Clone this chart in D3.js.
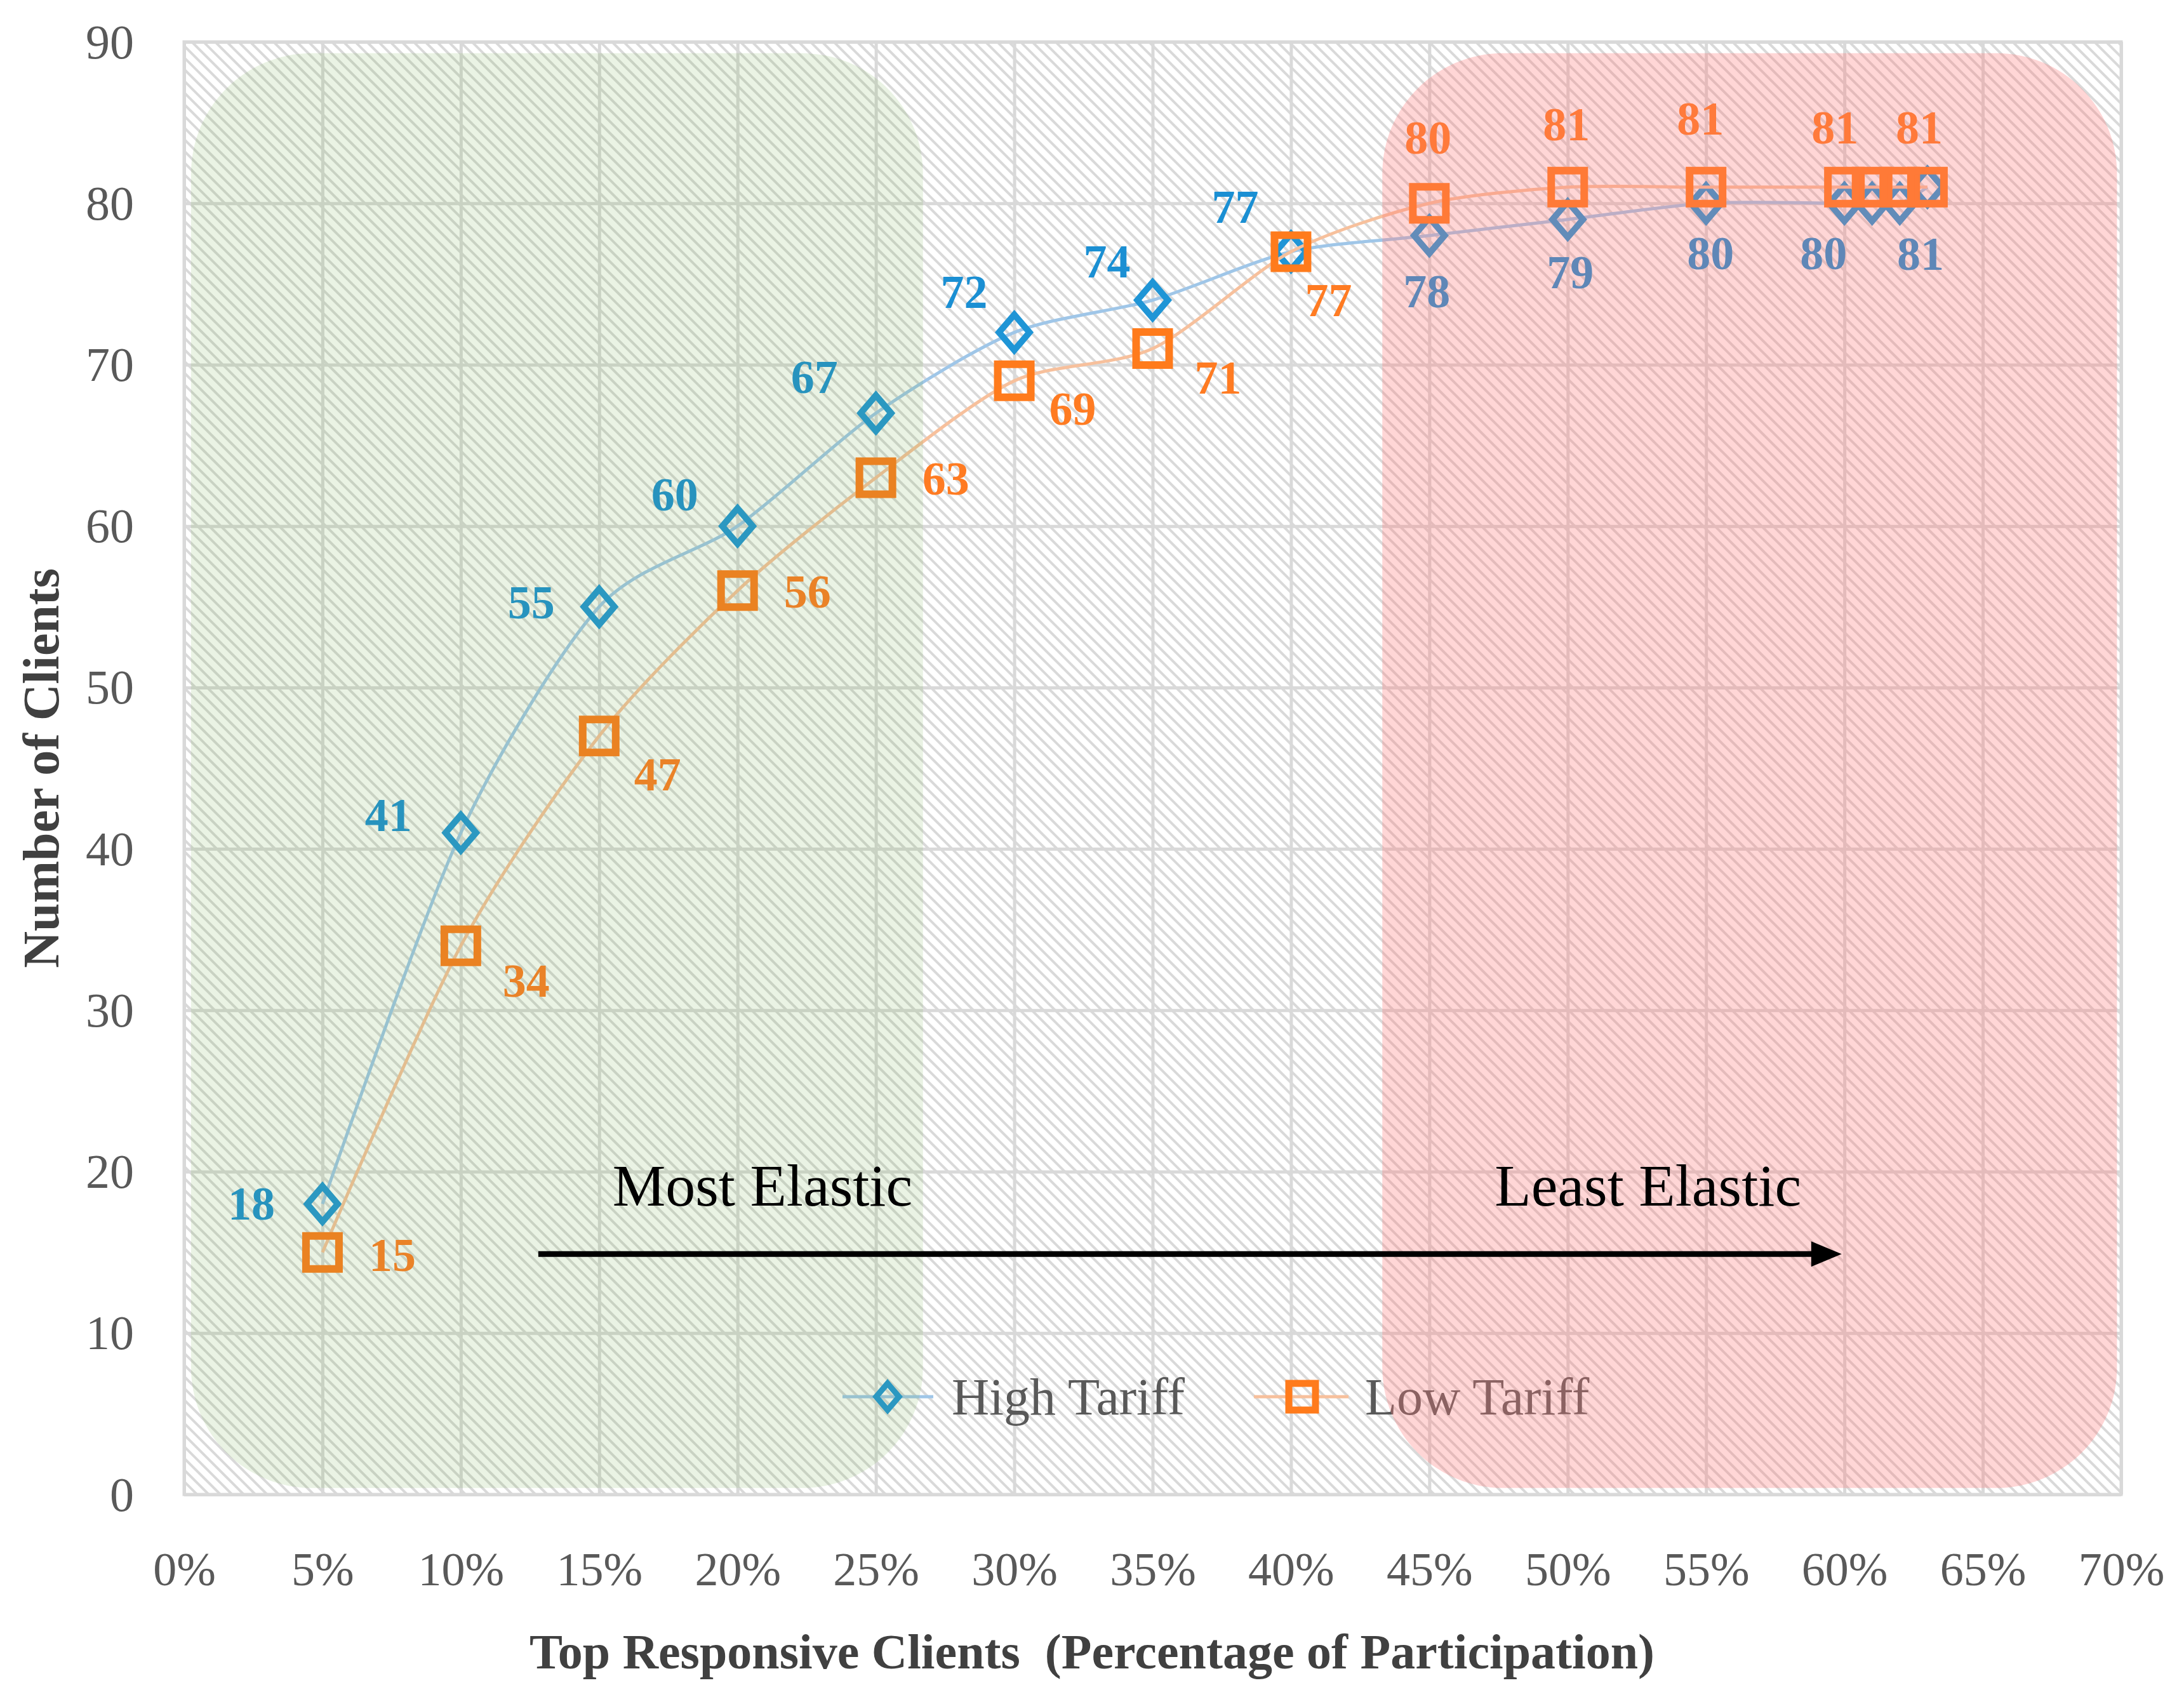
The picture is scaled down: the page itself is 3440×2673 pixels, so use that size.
<!DOCTYPE html>
<html><head><meta charset="utf-8">
<script src="https://cdn.jsdelivr.net/npm/d3@7"></script>
<style>html,body{margin:0;padding:0;background:#fff;} svg{display:block}</style>
</head><body>
<svg id="chart" width="3440" height="2673"></svg>
<script>
// ---------------- data ----------------
const xValues    = [5,10,15,20,25,30,35,40,45,50,55,60,61,62,63];   // % participation
const highTariff = [18,41,55,60,67,72,74,77,78,79,80,80,80,80,81];
const lowTariff  = [15,34,47,56,63,69,71,77,80,81,81,81,81,81,81];
const seriesNames = ["High Tariff", "Low Tariff"];
const xTicks = [0,5,10,15,20,25,30,35,40,45,50,55,60,65,70];
const yTicks = [0,10,20,30,40,50,60,70,80,90];
const xTitle = "Top Responsive Clients\u00A0\u00A0(Percentage of Participation)";
const yTitle = "Number of Clients";
const zoneNames = ["Most Elastic", "Least Elastic"];
const zoneX = [[0.25, 26.7], [43.3, 69.85]];     // zone extents in % units
const zoneY = [0.4, 89.3];                       // zone extents in client units
const zoneTextX = [20.9, 52.9];
const zoneTextY = 17.9;
const arrowX = [12.8, 59.9];
const arrowY = 14.9;

// ---------------- layout (pixels) ----------------
const W = 3440, H = 2673;
const M = {left: 290, right: 3341, top: 66, bottom: 2354};
// label offsets from marker centre (null = hidden)
const highLabelOffsets = [[-112,0],[-114,-28],[-107,-7],[-99,-50],[-97,-57],[-79,-64],[-72,-61],[-88,-70],
                          [-4,88],[4,83],[7,79],[-33,79],null,null,[-11,105]];
const lowLabelOffsets  = [[110,4],[103,55],[92,61],[110,2],[110,2],[92,44],[103,46],[59,77],
                          [-2,-103],[-2,-99],[-9,-108],[-15,-94],null,null,[-13,-94]];

const FONT = "'Liberation Serif', 'Times New Roman', serif";
const blueMarker = "#1f95d6", blueLine = "#9fc6e8", blueText = "#1a8fd3";
const orangeMarker = "#ff7b1c", orangeLine = "#f7c09c", orangeText = "#ff7b22";
const gridColor = "#d9d9d9";

const svg = d3.select("#chart");
svg.append("rect").attr("width", W).attr("height", H).attr("fill", "#fff");

const defs = svg.append("defs");
const P = 13;
const pat = defs.append("pattern").attr("id", "hatch")
  .attr("patternUnits", "userSpaceOnUse").attr("width", P).attr("height", P)
  .attr("patternTransform", "rotate(45)");
pat.append("rect").attr("width", P).attr("height", P).attr("fill", "#fff");
pat.append("rect").attr("x", 0).attr("y", 0).attr("width", P).attr("height", 4).attr("fill", "#d9d9d9");

const x = d3.scaleLinear().domain([0, 70]).range([M.left, M.right]);
const y = d3.scaleLinear().domain([0, 90]).range([M.bottom, M.top]);

// plot background
svg.append("rect").attr("x", M.left).attr("y", M.top)
  .attr("width", M.right - M.left).attr("height", M.bottom - M.top)
  .attr("fill", "url(#hatch)");

// gridlines
const gx = svg.append("g").attr("transform", `translate(0,${M.bottom})`)
  .call(d3.axisBottom(x).tickValues(xTicks).tickSize(-(M.bottom - M.top)).tickFormat(""));
gx.select(".domain").remove();
gx.selectAll("line").attr("stroke", gridColor).attr("stroke-width", 5);
const gy = svg.append("g").attr("transform", `translate(${M.left},0)`)
  .call(d3.axisLeft(y).tickValues(yTicks).tickSize(-(M.right - M.left)).tickFormat(""));
gy.select(".domain").remove();
gy.selectAll("line").attr("stroke", gridColor).attr("stroke-width", 5);
svg.append("rect").attr("x", M.left).attr("y", M.top)
  .attr("width", M.right - M.left).attr("height", M.bottom - M.top)
  .attr("fill", "none").attr("stroke", gridColor).attr("stroke-width", 5);

// tick labels
const ax = svg.append("g").attr("transform", `translate(0,${M.bottom})`)
  .call(d3.axisBottom(x).tickValues(xTicks).tickSize(0).tickFormat(d => d + "%"));
ax.select(".domain").remove();
ax.selectAll("text").attr("y", 143).attr("dy", 0)
  .attr("font-family", FONT).attr("font-size", 74).attr("fill", "#595959");
const ay = svg.append("g").attr("transform", `translate(${M.left},0)`)
  .call(d3.axisLeft(y).tickValues(yTicks).tickSize(0));
ay.select(".domain").remove();
ay.selectAll("text").attr("x", -79).attr("dy", "0.33em")
  .attr("font-family", FONT).attr("font-size", 76).attr("fill", "#595959");

// axis titles
svg.append("text").attr("x", 1720).attr("y", 2628).attr("text-anchor", "middle")
  .attr("font-family", FONT).attr("font-weight", "bold").attr("font-size", 78)
  .attr("fill", "#404040").text(xTitle);
svg.append("text").attr("transform", `translate(92,${(M.top + M.bottom) / 2}) rotate(-90)`)
  .attr("text-anchor", "middle")
  .attr("font-family", FONT).attr("font-weight", "bold").attr("font-size", 80)
  .attr("fill", "#404040").text(yTitle);

// series
const dataHigh = xValues.map((v, i) => ({x: v, y: highTariff[i], off: highLabelOffsets[i]}));
const dataLow  = xValues.map((v, i) => ({x: v, y: lowTariff[i], off: lowLabelOffsets[i]}));
const line = d3.line().x(d => x(d.x)).y(d => y(d.y)).curve(d3.curveCardinal.tension(0.2));

const diamond = (w, h) => `M0,${-h}L${w},0L0,${h}L${-w},0Z`;
const square = s => `M${-s},${-s}H${s}V${s}H${-s}Z`;

function drawSeries(data, lineColor, markerColor, textColor, shape, sw) {
  const g = svg.append("g");
  g.append("path").datum(data).attr("d", line).attr("fill", "none")
    .attr("stroke", lineColor).attr("stroke-width", 5);
  g.selectAll("path.m").data(data).join("path").attr("class", "m")
    .attr("transform", d => `translate(${x(d.x)},${y(d.y)})`)
    .attr("d", shape).attr("fill", "none").attr("stroke", markerColor)
    .attr("stroke-width", sw).attr("stroke-linejoin", "miter");
  g.selectAll("text").data(data.filter(d => d.off)).join("text")
    .attr("x", d => x(d.x) + d.off[0]).attr("y", d => y(d.y) + d.off[1] + 25)
    .attr("text-anchor", "middle").attr("font-family", FONT).attr("font-weight", "bold")
    .attr("font-size", 74).attr("fill", textColor).text(d => d.y);
}
drawSeries(dataHigh, blueLine, blueMarker, blueText, diamond(24, 28), 10);
drawSeries(dataLow, orangeLine, orangeMarker, orangeText, square(26), 12);

// legend
const legY = 2200;
const legend = [
  {name: seriesNames[0], x0: 1327, x1: 1470, mx: 1398, tx: 1499, lc: blueLine, mc: blueMarker, shape: diamond(18, 21), sw: 9},
  {name: seriesNames[1], x0: 1975, x1: 2124, mx: 2051, tx: 2150, lc: orangeLine, mc: orangeMarker, shape: square(21), sw: 11}
];
const lg = svg.append("g");
legend.forEach(L => {
  lg.append("line").attr("x1", L.x0).attr("x2", L.x1).attr("y1", legY).attr("y2", legY)
    .attr("stroke", L.lc).attr("stroke-width", 5);
  lg.append("path").attr("d", L.shape).attr("transform", `translate(${L.mx},${legY})`)
    .attr("fill", "none").attr("stroke", L.mc).attr("stroke-width", L.sw);
  lg.append("text").attr("x", L.tx).attr("y", legY + 28).attr("font-family", FONT)
    .attr("font-size", 82).attr("fill", "#595959").text(L.name);
});

// elasticity zones (translucent overlays)
const zoneFill = [["#70ad47", 0.15], ["#ff7878", 0.3]];
zoneX.forEach((zx, i) => {
  svg.append("rect").attr("x", x(zx[0])).attr("y", y(zoneY[1]))
    .attr("width", x(zx[1]) - x(zx[0])).attr("height", y(zoneY[0]) - y(zoneY[1]))
    .attr("rx", 190).attr("ry", 190)
    .attr("fill", zoneFill[i][0]).attr("fill-opacity", zoneFill[i][1]);
});

// annotations
zoneNames.forEach((n, i) => {
  svg.append("text").attr("x", x(zoneTextX[i])).attr("y", y(zoneTextY))
    .attr("text-anchor", "middle").attr("font-family", FONT).attr("font-size", 94)
    .attr("fill", "#000").text(n);
});
const headLen = 48, headHalf = 20;
svg.append("line").attr("x1", x(arrowX[0])).attr("x2", x(arrowX[1]) - headLen + 4)
  .attr("y1", y(arrowY)).attr("y2", y(arrowY)).attr("stroke", "#000").attr("stroke-width", 9);
svg.append("path")
  .attr("d", `M${x(arrowX[1])},${y(arrowY)}L${x(arrowX[1]) - headLen},${y(arrowY) - headHalf}L${x(arrowX[1]) - headLen},${y(arrowY) + headHalf}Z`)
  .attr("fill", "#000");
</script>
</body></html>
